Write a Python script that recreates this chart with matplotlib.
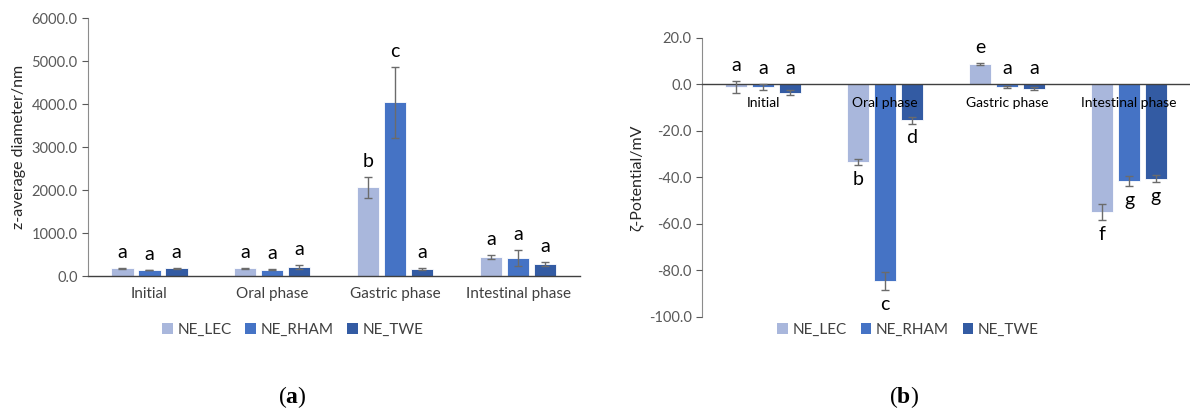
import numpy as np
import matplotlib
matplotlib.use('Agg')
import matplotlib.pyplot as plt
from matplotlib.patches import Patch

plt.rcParams['font.family'] = ['Lato', 'DejaVu Sans']
plt.rcParams['mathtext.fontset'] = 'custom'
plt.rcParams['mathtext.bf'] = 'Liberation Serif:bold'
plt.rcParams['mathtext.rm'] = 'Liberation Serif'

# =============================================================================
# Data
# =============================================================================

phases = ['Initial', 'Oral phase', 'Gastric phase', 'Intestinal phase']
series = ['NE_LEC', 'NE_RHAM', 'NE_TWE']

# (a) z-average diameter / nm
size_lec = [180, 185, 2060, 440]
size_rham = [140, 150, 4040, 420]
size_twe = [180, 210, 165, 280]
size_lec_err = [15, 10, 235, 50]
size_rham_err = [10, 12, 830, 190]
size_twe_err = [12, 40, 18, 40]
size_letters = [['a', 'a', 'b', 'a'],
                ['a', 'a', 'c', 'a'],
                ['a', 'a', 'a', 'a']]

# (b) zeta potential / mV
zeta_lec = [-1.0, -33.5, 8.8, -55.0]
zeta_rham = [-1.0, -84.5, -1.2, -41.5]
zeta_twe = [-3.5, -15.5, -1.8, -40.5]
zeta_lec_err = [2.5, 1.2, 0.6, 3.5]
zeta_rham_err = [1.2, 4.0, 0.5, 2.3]
zeta_twe_err = [1.0, 1.5, 0.6, 1.5]
zeta_letters = [['a', 'b', 'e', 'f'],
                ['a', 'c', 'a', 'g'],
                ['a', 'd', 'a', 'g']]

COLORS = ['#A9B7DC', '#4573C5', '#335BA3']
ERR_COLOR = '#6b6b6b'
TICK_COLOR = '#595959'

# =============================================================================
# Plotting
# =============================================================================

def draw_panel(ax, vals, errs, letters):
    x = np.arange(len(phases))
    width = 0.18
    offsets = [-0.22, 0.0, 0.22]
    for i in range(3):
        v = np.array(vals[i])
        e = np.array(errs[i])
        ax.bar(x + offsets[i], v, width, color=COLORS[i], edgecolor='white',
               linewidth=0.6, zorder=2)
        ax.errorbar(x + offsets[i], v, yerr=e, fmt='none', ecolor=ERR_COLOR,
                    elinewidth=1.0, capsize=3, capthick=1.0, zorder=3)
        for j in range(len(phases)):
            if v[j] > -6:
                top = max(v[j] + e[j], 0)
                ax.annotate(letters[i][j], (x[j] + offsets[i], top),
                            xytext=(0, 5), textcoords='offset points',
                            ha='center', va='bottom', fontsize=14, color='black')
            else:
                ax.annotate(letters[i][j], (x[j] + offsets[i], v[j] - e[j]),
                            xytext=(0, -4), textcoords='offset points',
                            ha='center', va='top', fontsize=14, color='black')
    ax.set_xticks(x)
    ax.set_xticklabels(phases, fontsize=11, color='#404040')
    ax.tick_params(axis='x', length=0, pad=8)
    ax.tick_params(axis='y', labelsize=10.5, colors=TICK_COLOR, length=4,
                   width=0.8, direction='out')
    ax.set_xlim(-0.5, 3.5)
    ax.set_axisbelow(False)
    for s in ['top', 'right']:
        ax.spines[s].set_visible(False)
    ax.spines['left'].set_color('#8c8c8c')
    ax.spines['bottom'].set_color('#404040')
    ax.spines['bottom'].set_linewidth(1.0)
    ax.yaxis.set_major_formatter(matplotlib.ticker.FormatStrFormatter('%.1f'))


fig = plt.figure(figsize=(11.9, 4.12), dpi=100)

ax1 = fig.add_axes([0.074, 0.330, 0.413, 0.626])
draw_panel(ax1, [size_lec, size_rham, size_twe],
           [size_lec_err, size_rham_err, size_twe_err], size_letters)
ax1.set_ylim(0, 6000)
ax1.set_yticks(np.arange(0, 6001, 1000))
ax1.set_ylabel('z-average diameter/nm', fontsize=11.5, color='#262626')

ax2 = fig.add_axes([0.590, 0.231, 0.410, 0.677])
draw_panel(ax2, [zeta_lec, zeta_rham, zeta_twe],
           [zeta_lec_err, zeta_rham_err, zeta_twe_err], zeta_letters)
ax2.set_ylim(-100, 20)
ax2.set_yticks(np.arange(-100, 21, 20))
ax2.spines['bottom'].set_position(('data', 0))
ax2.tick_params(axis='x', pad=9)
ax2.set_ylabel('ζ-Potential/mV', fontsize=11.5, color='#262626')

handles = [Patch(facecolor=c, edgecolor='none') for c in COLORS]
for cx in [0.246, 0.763]:
    fig.legend(handles, series, loc='center', bbox_to_anchor=(cx, 0.200),
               ncol=3, frameon=False, fontsize=11, handlelength=0.7,
               handleheight=0.7, handletextpad=0.3, columnspacing=0.9,
               labelcolor='#404040')

fig.text(0.246, 0.036, r'($\mathbf{a}$)', ha='center', va='center',
         fontsize=17, family='Liberation Serif')
fig.text(0.760, 0.036, r'($\mathbf{b}$)', ha='center', va='center',
         fontsize=17, family='Liberation Serif')

plt.savefig('out.png', dpi=100)
